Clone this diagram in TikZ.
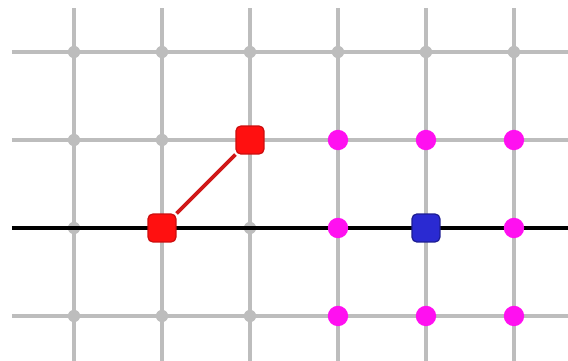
\documentclass[tikz,border=0pt]{standalone}
\definecolor{gridgray}{HTML}{BDBDBD}
\definecolor{piecered}{HTML}{FF1010}
\definecolor{linkred}{HTML}{D01818}
\definecolor{pieceblue}{HTML}{2A2AD2}
\definecolor{spot}{HTML}{FF10F0}

\begin{document}
\begin{tikzpicture}[x=1cm,y=1cm,
    piece/.style={rectangle,rounded corners=1.5pt,minimum size=9pt,
      inner sep=0pt,line width=0.4pt},
    target/.style={circle,fill=spot,minimum size=6.6pt,inner sep=0pt}]
  \useasboundingbox (-0.841,-1.511) rectangle (5.614,2.591);

  % board
  \foreach \x in {0,...,5}
    \draw[gridgray,line width=1.3pt] (\x,2.5) -- (\x,-1.511);
  \foreach \y in {2,1,0,-1}
    \draw[gridgray,line width=1.3pt] (-0.705,\y) -- (5.614,\y);
  \foreach \x in {0,...,5}
    \foreach \y in {2,1,0,-1}
      \fill[gridgray] (\x,\y) circle (2pt);

  \draw[black,line width=1.6pt] (-0.705,0) -- (5.614,0);

  % reachable squares
  \node[target] (t31) at (3,1) {};
  \node[target] (t41) at (4,1) {};
  \node[target] (t51) at (5,1) {};
  \node[target] (t30) at (3,0) {};
  \node[target] (t50) at (5,0) {};
  \node[target] (t3m) at (3,-1) {};
  \node[target] (t4m) at (4,-1) {};
  \node[target] (t5m) at (5,-1) {};

  % pieces
  \node[piece,draw=piecered!80!black,fill=piecered] (from) at (1,0) {};
  \node[piece,draw=piecered!80!black,fill=piecered] (to) at (2,1) {};
  \node[piece,draw=pieceblue!70!black,fill=pieceblue] (king) at (4,0) {};
  \draw[linkred,line width=1.2pt] (from) -- (to);
\end{tikzpicture}
\end{document}
